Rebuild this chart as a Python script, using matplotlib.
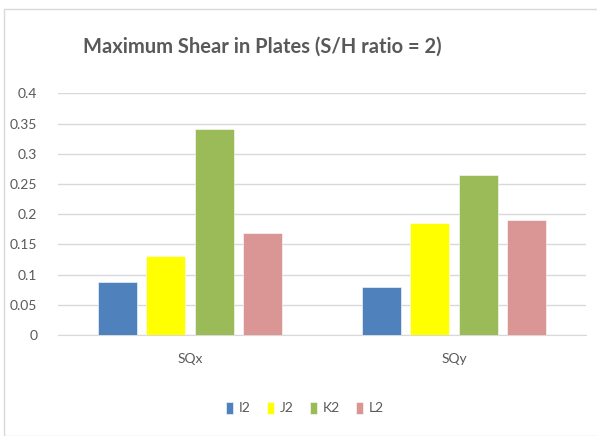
import matplotlib
matplotlib.use("Agg")
import matplotlib.pyplot as plt
import numpy as np
from matplotlib.patches import Rectangle

categories = ["SQx", "SQy"]
series_names = ["I2", "J2", "K2", "L2"]
I2 = [0.087, 0.079]
J2 = [0.130, 0.186]
K2 = [0.341, 0.265]
L2 = [0.169, 0.191]
values = [I2, J2, K2, L2]
colors = ["#4F81BD", "#FFFF00", "#9BBB59", "#D99694"]
yticks = [0, 0.05, 0.1, 0.15, 0.2, 0.25, 0.3, 0.35, 0.4]
ytick_labels = ["0", "0.05", "0.1", "0.15", "0.2", "0.25", "0.3", "0.35", "0.4"]

FONT = ["Lato", "DejaVu Sans"]
plt.rcParams["font.family"] = FONT
GREY = "#595959"

W, H = 597, 436
fig = plt.figure(figsize=(W / 100, H / 100), dpi=100)
fig.patch.set_facecolor("white")

# chart border
fig.add_artist(Rectangle((4 / W, 0.0), 1.2, 1 - 9 / H, transform=fig.transFigure,
                         fill=False, edgecolor="#D9D9D9", linewidth=1.0))

ax = fig.add_axes([58 / W, 1 - 335 / H, (586 - 58) / W, (335 - 93.3) / H])
x = np.arange(len(categories))
slot = 0.1837
bw = 0.146
for i, (name, vals, c) in enumerate(zip(series_names, values, colors)):
    ax.bar(x + (i - 1.5) * slot, vals, width=bw, color=c, label=name,
           edgecolor="white", linewidth=0.4, zorder=3)

ax.set_xlim(-0.5, 1.5)
ax.set_ylim(0, 0.4)
ax.set_yticks(yticks)
ax.set_yticklabels(ytick_labels)
ax.set_xticks(x)
ax.set_xticklabels(categories)
ax.yaxis.grid(True, color="#D9D9D9", linewidth=1.0, zorder=0)
ax.set_axisbelow(True)
for s in ["top", "right", "left"]:
    ax.spines[s].set_visible(False)
ax.spines["bottom"].set_color("#D9D9D9")
ax.tick_params(axis="both", length=0, colors=GREY, labelsize=10)
ax.tick_params(axis="y", pad=15)
ax.tick_params(axis="x", pad=13)

fig.text(0.5 * (85 + 440) / W, 1 - 47 / H, "Maximum Shear in Plates (S/H ratio = 2)",
         ha="center", va="center", fontsize=14.5, color=GREY, fontweight="bold")

ax.legend(loc="center", bbox_to_anchor=(305 / W, 1 - 408 / H), bbox_transform=fig.transFigure,
          ncol=4, frameon=False, fontsize=10, labelcolor=GREY, handlelength=0.5,
          handleheight=1.0, handletextpad=0.4, columnspacing=1.2)

fig.savefig("out.png", dpi=100)
